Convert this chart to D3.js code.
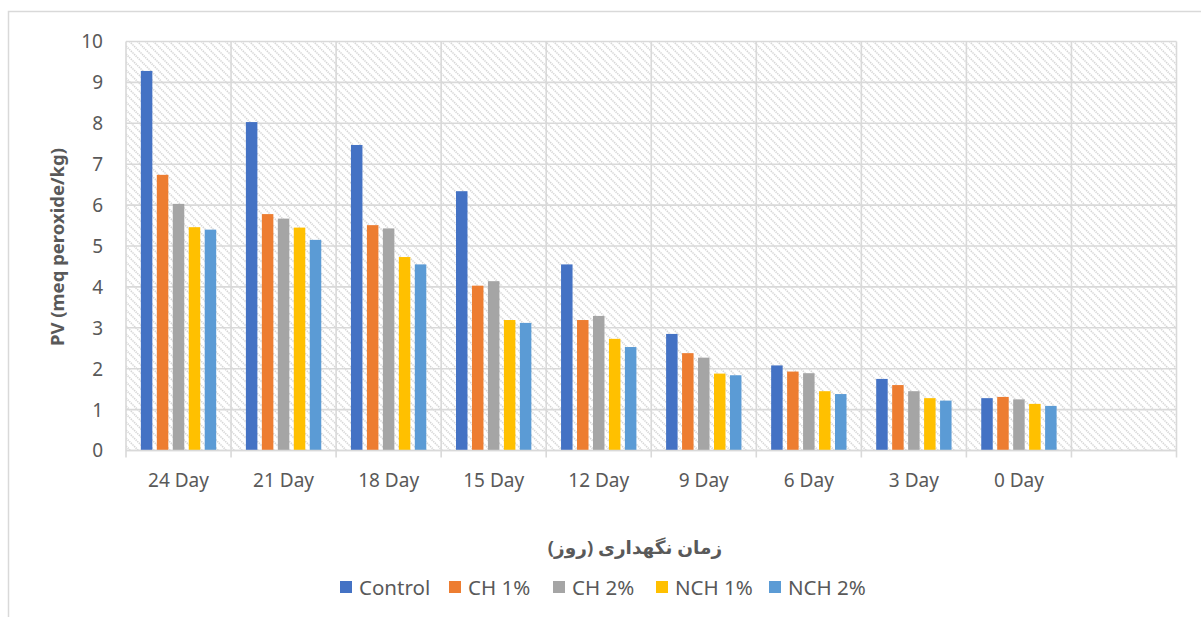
<!DOCTYPE html>
<html>
<head>
<meta charset="utf-8">
<script src="https://cdn.jsdelivr.net/npm/d3@7"></script>
<style>
  html, body { margin: 0; padding: 0; background: #ffffff; }
  svg { display: block; }
  text { font-family: "Noto Sans", "DejaVu Sans", sans-serif; fill: #595959; }
</style>
</head>
<body>
<svg id="chart" width="1201" height="617"></svg>
<script>
// Storage days (the last slot is an empty category on the axis)
const categories = ["24 Day", "21 Day", "18 Day", "15 Day", "12 Day", "9 Day", "6 Day", "3 Day", "0 Day", ""];

// Peroxide value per treatment, in the same order as the categories
const control = [9.28, 8.03, 7.47, 6.34, 4.55, 2.85, 2.08, 1.75, 1.28, null];
const ch1     = [6.74, 5.78, 5.51, 4.03, 3.19, 2.38, 1.93, 1.60, 1.31, null];
const ch2     = [6.03, 5.67, 5.43, 4.14, 3.29, 2.27, 1.89, 1.45, 1.25, null];
const nch1    = [5.46, 5.45, 4.73, 3.19, 2.73, 1.88, 1.45, 1.28, 1.14, null];
const nch2    = [5.40, 5.15, 4.55, 3.12, 2.53, 1.84, 1.38, 1.22, 1.09, null];

const seriesNames = ["Control", "CH 1%", "CH 2%", "NCH 1%", "NCH 2%"];
const seriesColors = ["#4472C4", "#ED7D31", "#A5A5A5", "#FFC000", "#5B9BD5"];
const seriesValues = [control, ch1, ch2, nch1, nch2];

const yTicks = [0, 1, 2, 3, 4, 5, 6, 7, 8, 9, 10];
const yTitle = "PV (meq peroxide/kg)";
const xTitle = "زمان نگهداری (روز)";

const svg = d3.select("#chart");
const plot = { left: 126, right: 1176.5, top: 41.5, bottom: 450.5 };

// Outer chart frame
svg.append("rect")
  .attr("x", 8.5).attr("y", 11.5)
  .attr("width", 1220).attr("height", 640)
  .attr("fill", "#ffffff")
  .attr("stroke", "#d9d9d9").attr("stroke-width", 1.5);

// Diagonal hatch fill for the plot area
const defs = svg.append("defs");
const pat = defs.append("pattern")
  .attr("id", "hatch")
  .attr("patternUnits", "userSpaceOnUse")
  .attr("width", 8).attr("height", 8);
pat.append("rect").attr("width", 8).attr("height", 8).attr("fill", "#ffffff");
pat.append("path")
  .attr("d", "M-2,-2 L10,10 M-2,6 L2,10 M6,-2 L10,2")
  .attr("stroke", "#d6d6d6")
  .attr("stroke-width", 1.6)
  .attr("stroke-dasharray", "1.4,0.9");

svg.append("rect")
  .attr("x", plot.left).attr("y", plot.top)
  .attr("width", plot.right - plot.left)
  .attr("height", plot.bottom - plot.top)
  .attr("fill", "url(#hatch)");

const x0 = d3.scaleBand()
  .domain(d3.range(categories.length))
  .range([plot.left, plot.right])
  .paddingInner(0).paddingOuter(0);

const x1 = d3.scaleBand()
  .domain(d3.range(seriesNames.length))
  .range([0, x0.bandwidth()])
  .paddingInner(0.28)
  .paddingOuter(0.93);

const y = d3.scaleLinear().domain([0, 10]).range([plot.bottom, plot.top]);

const gridColor = "#d9d9d9";

// Horizontal gridlines
svg.append("g")
  .selectAll("line")
  .data(yTicks)
  .join("line")
  .attr("x1", plot.left).attr("x2", plot.right)
  .attr("y1", d => y(d)).attr("y2", d => y(d))
  .attr("stroke", gridColor).attr("stroke-width", 1.6);

// Vertical gridlines at category boundaries, with tick marks under the axis
const boundaries = d3.range(categories.length).map(i => x0(i)).concat([plot.right]);
svg.append("g")
  .selectAll("line")
  .data(boundaries)
  .join("line")
  .attr("x1", d => d).attr("x2", d => d)
  .attr("y1", plot.top).attr("y2", plot.bottom + 7)
  .attr("stroke", gridColor).attr("stroke-width", 1.6);

// Bars
const groups = svg.append("g")
  .selectAll("g")
  .data(categories.map((c, i) => i))
  .join("g")
  .attr("transform", i => `translate(${x0(i)},0)`);

groups.selectAll("rect")
  .data(i => seriesValues.map((vals, s) => ({ s, v: vals[i] })).filter(d => d.v != null))
  .join("rect")
  .attr("x", d => x1(d.s))
  .attr("width", x1.bandwidth())
  .attr("y", d => y(d.v))
  .attr("height", d => y(0) - y(d.v))
  .attr("fill", d => seriesColors[d.s]);

// Y axis tick labels
const yAxis = d3.axisLeft(y).tickValues(yTicks).tickSize(0).tickPadding(0);
const yg = svg.append("g")
  .attr("transform", `translate(${plot.left - 23},0)`)
  .call(yAxis);
yg.select(".domain").remove();
yg.selectAll("text")
  .attr("font-size", 19)
  .attr("font-family", "Noto Sans, DejaVu Sans, sans-serif")
  .attr("fill", "#595959")
  .attr("dy", "0.34em");

// X axis category labels
const xAxis = d3.axisBottom(x0).tickFormat(i => categories[i]).tickSize(0).tickPadding(0);
const xg = svg.append("g")
  .attr("transform", `translate(0,${plot.bottom + 23})`)
  .call(xAxis);
xg.select(".domain").remove();
xg.selectAll("text")
  .attr("font-size", 19)
  .attr("font-family", "Noto Sans, DejaVu Sans, sans-serif")
  .attr("fill", "#595959")
  .attr("dy", "0.71em");

// Bottom axis line
svg.append("line")
  .attr("x1", plot.left).attr("x2", plot.right)
  .attr("y1", plot.bottom).attr("y2", plot.bottom)
  .attr("stroke", gridColor).attr("stroke-width", 1.6);

// Axis titles
svg.append("text")
  .attr("transform", `translate(64,${(plot.top + plot.bottom) / 2 + 1}) rotate(-90)`)
  .attr("text-anchor", "middle")
  .attr("font-size", 18.5)
  .attr("font-weight", "bold")
  .attr("fill", "#595959")
  .text(yTitle);

svg.append("text")
  .attr("x", 635).attr("y", 554)
  .attr("text-anchor", "middle")
  .attr("direction", "rtl")
  .attr("font-size", 18.5)
  .attr("font-weight", "bold")
  .attr("font-family", "DejaVu Sans, sans-serif")
  .attr("fill", "#595959")
  .text(xTitle);

// Legend
const legendX = [340, 449, 553, 656, 769];
const legend = svg.append("g");
seriesNames.forEach((name, s) => {
  legend.append("rect")
    .attr("x", legendX[s]).attr("y", 581)
    .attr("width", 12).attr("height", 12)
    .attr("fill", seriesColors[s]);
  legend.append("text")
    .attr("x", legendX[s] + 19).attr("y", 594.5)
    .attr("font-size", 20.5)
    .attr("fill", "#595959")
    .text(name);
});
</script>
</body>
</html>
